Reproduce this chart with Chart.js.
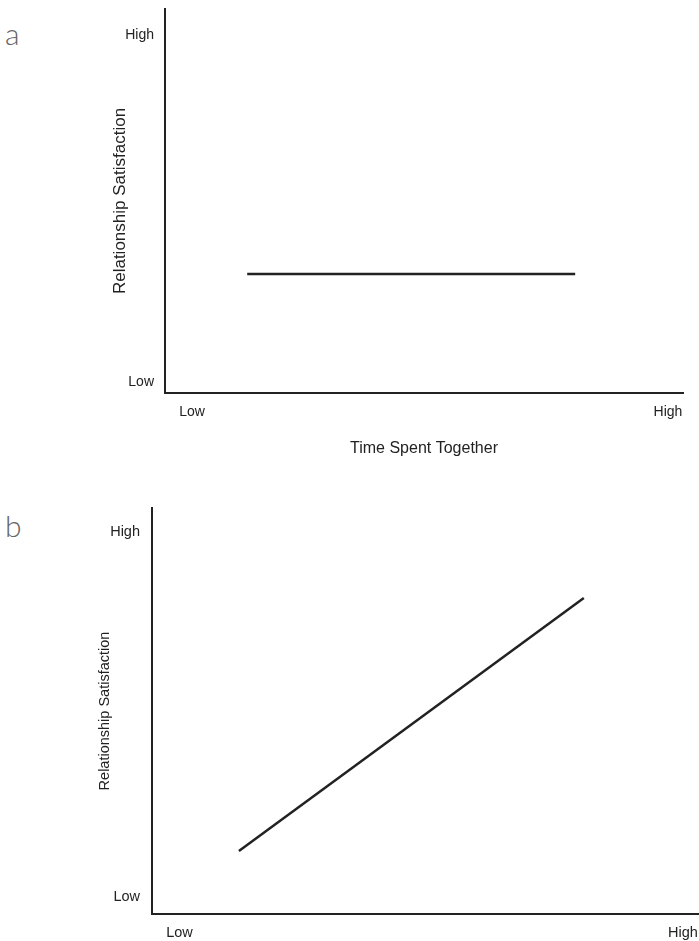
<!DOCTYPE html>
<html>
<head>
<meta charset="utf-8">
<script src="https://cdn.jsdelivr.net/npm/chart.js@4.4.1/dist/chart.umd.min.js"></script>
<style>
  body { margin:0; background:#fff; width:699px; height:941px; position:relative; overflow:hidden; }
  .box { position:absolute; left:0; width:699px; }
  .lettre { position:absolute; left:5px; font-family:Lato, "DejaVu Sans", sans-serif; font-weight:300; color:#666; font-size:30px; line-height:30px; }
</style>
</head>
<body>
<div class="lettre" style="top:18px;">a</div>
<div class="lettre" style="top:510px;">b</div>
<div class="box" style="top:0; height:470px;"><canvas id="graficoA"></canvas></div>
<div class="box" style="top:470px; height:471px;"><canvas id="graficoB"></canvas></div>
<script>
// etichette degli assi
const tickLabels = ['Low', 'High'];
const tickValues = [0, 1];
const titoloY = 'Relationship Satisfaction';
const titoloX = 'Time Spent Together';

// pannello a: linea piatta
const lineaAX = [0.116, 0.805];
const lineaAY = [0.311, 0.311];

// pannello b: linea crescente
const lineaBX = [0.118, 0.803];
const lineaBY = [0.126, 0.819];

function punti(xs, ys)
{
  let p = [];
  for (let i = 0; i < xs.length; i++)
    p.push({x: xs[i], y: ys[i]});
  return p;
}

function creaGrafico(id, xs, ys, cfg)
{
  const ctx = document.getElementById(id);
  return new Chart(ctx, {
    type: 'scatter',
    data: {
      datasets: [{
        data: punti(xs, ys),
        showLine: true,
        borderColor: '#222',
        borderWidth: 2.5,
        pointRadius: 0,
        fill: false
      }]
    },
    options: {
      responsive: true,
      maintainAspectRatio: false,
      animation: false,
      events: [],
      layout: { padding: cfg.padding },
      plugins: { legend: {display:false}, tooltip: {enabled:false} },
      scales: {
        x: {
          type: 'linear',
          min: cfg.xMin, max: cfg.xMax,
          afterBuildTicks: s => { s.ticks = tickValues.map(v => ({value: v})); },
          afterFit: s => { s.height = cfg.xHeight; s.paddingLeft = 0; s.paddingRight = 0; },
          grid: { display: false, drawTicks: false },
          border: { display: true, color: '#222', width: 2 },
          ticks: {
            padding: cfg.xTickPad,
            color: '#222',
            maxRotation: 0,
            autoSkip: false,
            font: { family: 'Liberation Sans, Arial, sans-serif', size: cfg.tickSize },
            callback: (v) => tickLabels[tickValues.indexOf(v)]
          },
          title: {
            display: cfg.mostraTitoloX,
            text: titoloX,
            color: '#222',
            padding: {top: 4, bottom: 4},
            font: { family: 'Liberation Sans, Arial, sans-serif', size: 16 }
          }
        },
        y: {
          type: 'linear',
          min: cfg.yMin, max: cfg.yMax,
          afterBuildTicks: s => { s.ticks = tickValues.map(v => ({value: v})); },
          afterFit: s => { s.width = cfg.yWidth; s.paddingTop = 0; s.paddingBottom = 0; },
          grid: { display: false, drawTicks: false },
          border: { display: true, color: '#222', width: 2 },
          ticks: {
            padding: cfg.yTickPad,
            color: '#222',
            autoSkip: false,
            font: { family: 'Liberation Sans, Arial, sans-serif', size: cfg.tickSize },
            callback: (v) => tickLabels[tickValues.indexOf(v)]
          },
          title: {
            display: true,
            text: titoloY,
            color: '#222',
            padding: {top: 4, bottom: 4},
            font: { family: 'Liberation Sans, Arial, sans-serif', size: cfg.titoloYSize }
          }
        }
      }
    }
  });
}

let graficoA = creaGrafico('graficoA', lineaAX, lineaAY, {
  padding: {left: 106, top: 9, right: 16, bottom: 8},
  xMin: -0.0567, xMax: 1.0315,
  yMin: -0.0317, yMax: 1.0749,
  xHeight: 69, yWidth: 59,
  xTickPad: 11, yTickPad: 11,
  tickSize: 14, titoloYSize: 17,
  mostraTitoloX: true
});

let graficoB = creaGrafico('graficoB', lineaBX, lineaBY, {
  padding: {left: 92, top: 38, right: 1, bottom: 0},
  xMin: -0.0546, xMax: 1.0298,
  yMin: -0.0466, yMax: 1.0658,
  xHeight: 27, yWidth: 60,
  xTickPad: 10, yTickPad: 12,
  tickSize: 14.5, titoloYSize: 14.5,
  mostraTitoloX: false
});
</script>
</body>
</html>
